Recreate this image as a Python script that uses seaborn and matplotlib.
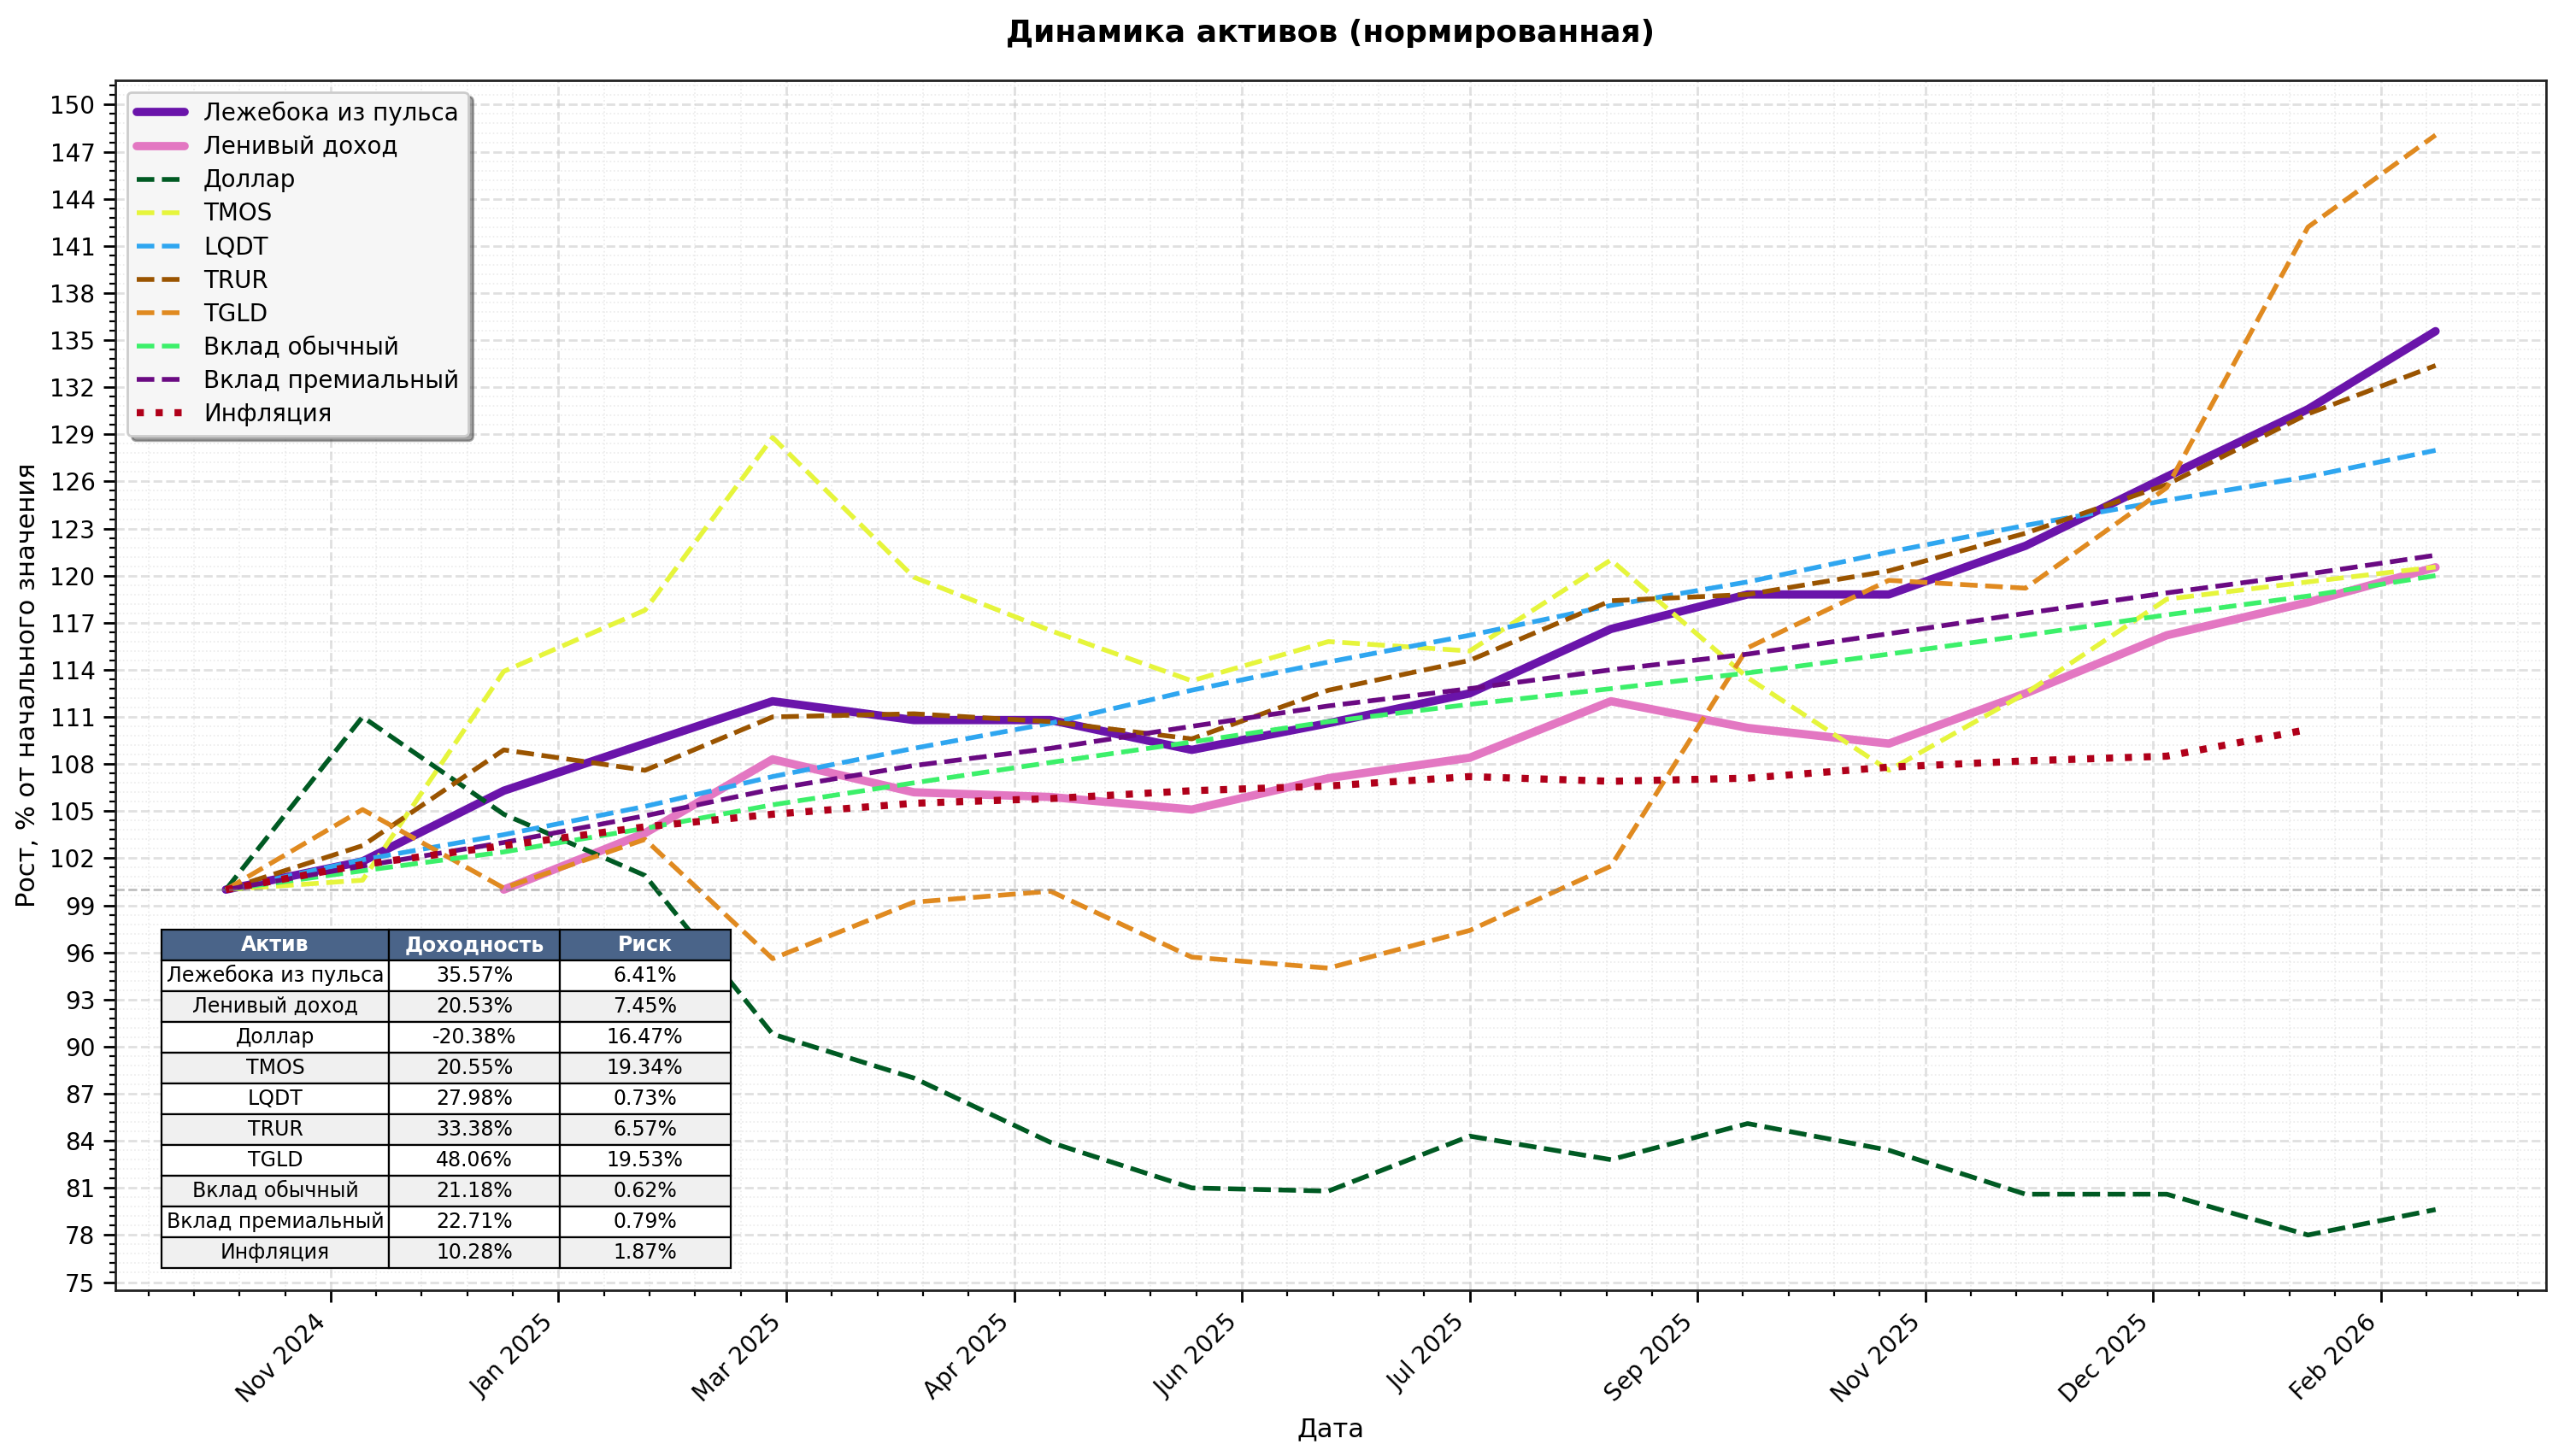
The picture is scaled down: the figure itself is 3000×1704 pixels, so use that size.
import numpy as np
import pandas as pd
import seaborn as sns
import matplotlib
matplotlib.use("Agg")
import matplotlib.pyplot as plt
import matplotlib.dates as mdates
from matplotlib.ticker import MultipleLocator, AutoMinorLocator

# monthly points, month ends
dates = pd.date_range("2024-10-31", periods=17, freq="ME")

lezheboka = [100.0, 101.8, 106.3, 109.3, 112.0, 110.8, 110.8, 108.9, 110.6, 112.5, 116.6, 118.8, 118.8, 121.9, 126.3, 130.6, 135.57]
lazy = [np.nan, np.nan, 100.0, 103.6, 108.3, 106.2, 105.9, 105.1, 107.1, 108.4, 112.0, 110.3, 109.3, 112.5, 116.2, 118.3, 120.53]
dollar = [100.0, 111.0, 104.8, 100.9, 90.8, 88.0, 83.9, 81.0, 80.8, 84.3, 82.8, 85.1, 83.4, 80.6, 80.6, 78.0, 79.62]
tmos = [100.0, 100.6, 113.9, 117.8, 128.8, 119.9, 116.5, 113.3, 115.8, 115.2, 121.0, 113.5, 107.6, 112.5, 118.5, 119.6, 120.55]
lqdt = [100.0, 101.9, 103.5, 105.3, 107.2, 109.0, 110.6, 112.7, 114.5, 116.2, 118.1, 119.6, 121.5, 123.2, 124.8, 126.3, 127.98]
trur = [100.0, 102.8, 108.9, 107.6, 111.0, 111.2, 110.7, 109.6, 112.7, 114.6, 118.4, 118.8, 120.3, 122.7, 125.8, 130.3, 133.38]
tgld = [100.0, 105.1, 100.1, 103.2, 95.6, 99.2, 99.9, 95.7, 95.0, 97.4, 101.5, 115.4, 119.7, 119.2, 125.6, 142.2, 148.06]
deposit = [100.0, 101.2, 102.4, 103.9, 105.4, 106.8, 108.1, 109.4, 110.7, 111.8, 112.8, 113.8, 115.0, 116.2, 117.5, 118.7, 120.0]
premium = [100.0, 101.5, 103.0, 104.7, 106.4, 107.9, 109.0, 110.4, 111.7, 112.8, 114.0, 115.0, 116.3, 117.6, 118.9, 120.1, 121.3]
inflation = [100.0, 101.6, 102.8, 104.0, 104.8, 105.5, 105.8, 106.3, 106.6, 107.2, 106.9, 107.1, 107.8, 108.2, 108.5, 110.2, np.nan]

# table
assets = ["Лежебока из пульса", "Ленивый доход", "Доллар", "TMOS", "LQDT", "TRUR", "TGLD",
          "Вклад обычный", "Вклад премиальный", "Инфляция"]
returns = ["35.57%", "20.53%", "-20.38%", "20.55%", "27.98%", "33.38%", "48.06%", "21.18%", "22.71%", "10.28%"]
risks = ["6.41%", "7.45%", "16.47%", "19.34%", "0.73%", "6.57%", "19.53%", "0.62%", "0.79%", "1.87%"]

series = [
    ("Лежебока из пульса", lezheboka, "#6a14aa", "-", 3.5),
    ("Ленивый доход", lazy, "#e377c2", "-", 3.5),
    ("Доллар", dollar, "#005a23", "--", 2),
    ("TMOS", tmos, "#e6f53c", "--", 2),
    ("LQDT", lqdt, "#2fa6f0", "--", 2),
    ("TRUR", trur, "#9a5400", "--", 2),
    ("TGLD", tgld, "#e08a20", "--", 2),
    ("Вклад обычный", deposit, "#3cf06a", "--", 2),
    ("Вклад премиальный", premium, "#6a0a82", "--", 2),
    ("Инфляция", inflation, "#b0001a", ":", 3),
]

sns.set_style("white")
plt.rcParams["font.family"] = ["DejaVu Sans"]
for key in ["text.color", "axes.labelcolor", "xtick.color", "ytick.color"]:
    plt.rcParams[key] = "black"

fig, ax = plt.subplots(figsize=(15, 8.52), dpi=200)
fig.subplots_adjust(left=0.045, right=0.993, top=0.945, bottom=0.114)

for name, vals, color, ls, lw in series:
    df = pd.DataFrame({"date": dates, "value": vals})
    sns.lineplot(data=df, x="date", y="value", ax=ax, label=name, color=color,
                 linestyle=ls, linewidth=lw)

ax.axhline(100, color="gray", linestyle="--", linewidth=1, alpha=0.5)

ax.xaxis.set_major_locator(MultipleLocator(50))
ax.xaxis.set_minor_locator(AutoMinorLocator(5))
ax.xaxis.set_major_formatter(mdates.DateFormatter("%b %Y"))
ax.yaxis.set_major_locator(MultipleLocator(3))
ax.yaxis.set_minor_locator(AutoMinorLocator(5))

ax.grid(which="major", linestyle="--", linewidth=1, color="#cccccc", alpha=0.6)
ax.grid(which="minor", linestyle=":", linewidth=0.6, color="#cccccc", alpha=0.4)

ax.tick_params(axis="both", which="major", direction="out", length=5, width=1, labelsize=10,
               bottom=True, left=True)
ax.tick_params(axis="both", which="minor", direction="out", length=2.5, width=0.8,
               bottom=True, left=True)
plt.setp(ax.get_xticklabels(), rotation=45, ha="right")

for sp in ax.spines.values():
    sp.set_color("#222222")
    sp.set_linewidth(1)

ax.set_title("Динамика активов (нормированная)", fontsize=13, fontweight="bold", pad=16)
ax.set_xlabel("Дата", fontsize=11)
ax.set_ylabel("Рост, % от начального значения", fontsize=11)

leg = ax.legend(loc="upper left", fontsize=10, frameon=True, fancybox=True, shadow=True,
                framealpha=1, facecolor="#f6f6f6", edgecolor="#cccccc", labelspacing=0.4)

cells = [[a, r, k] for a, r, k in zip(assets, returns, risks)]
tbl = ax.table(cellText=cells, colLabels=["Актив", "Доходность", "Риск"], cellLoc="center",
               colWidths=[0.40, 0.30, 0.30], bbox=[0.019, 0.018, 0.234, 0.28], zorder=5)
tbl.auto_set_font_size(False)
tbl.set_fontsize(8.5)
for (r, c), cell in tbl.get_celld().items():
    cell.set_edgecolor("black")
    cell.set_linewidth(0.8)
    if r == 0:
        cell.set_facecolor("#4a6489")
        cell.set_text_props(color="white", fontweight="bold")
    else:
        cell.set_facecolor("#f0f0f0" if r % 2 == 0 else "white")

fig.savefig("out.png", dpi=200)
